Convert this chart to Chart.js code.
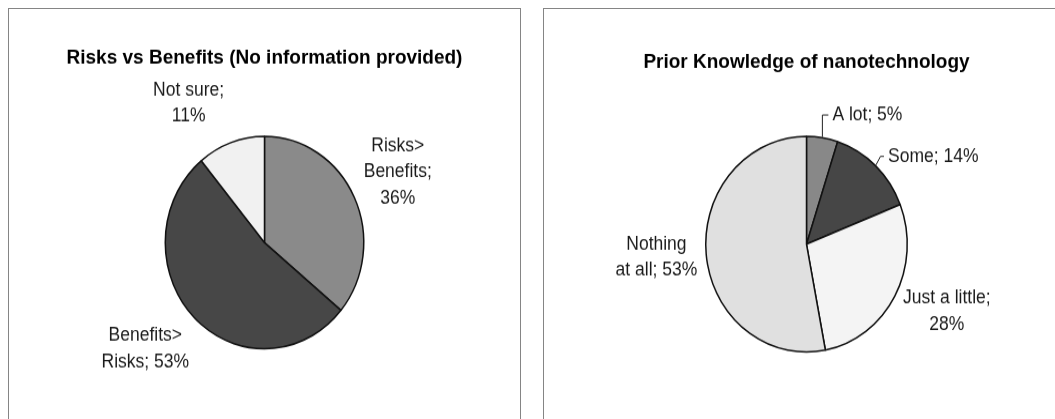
<!DOCTYPE html>
<html>
<head>
<meta charset="utf-8">
<script src="https://cdn.jsdelivr.net/npm/chart.js@4/dist/chart.umd.min.js"></script>
<style>
  html, body { margin:0; padding:0; background:#fff; width:1055px; height:419px; overflow:hidden; }
  .panel { position:absolute; top:8px; height:440px; border:1px solid #858585; box-sizing:border-box; background:#fff; overflow:hidden; }
  #p1 { left:8px; width:513px; }
  #p2 { left:543px; width:530px; }
  /* source picture is slightly taller than wide, stretch the drawing the same way */
  .wrap { position:absolute; left:0; top:0; width:511px; height:392px; transform:scaleY(1.07); transform-origin:0 0; }
</style>
</head>
<body>
<div class="panel" id="p1"><div class="wrap"><canvas id="risk" width="511" height="392"></canvas></div></div>
<div class="panel" id="p2"><div class="wrap"><canvas id="know" width="511" height="392"></canvas></div></div>
<script>
// ======= data =======
const riskCategories = ['Risks>|Benefits', 'Benefits>|Risks', 'Not sure'];
const riskValues = [36, 53, 11];
const riskColors = ['#8a8a8a', '#474747', '#f1f1f1'];
const riskValueOnNewLine = [true, false, true];

const knowCategories = ['A lot', 'Some', 'Just a little', 'Nothing|at all'];
const knowValues = [5, 14, 28, 53];
const knowColors = ['#888888', '#464646', '#f4f4f4', '#e0e0e0'];
const knowValueOnNewLine = [false, false, true, false];

const FONT = '"Liberation Sans", Arial, sans-serif';

// "Risks>|Benefits" + 36 -> ["Risks>", "Benefits;", "36%"]
function labelLines(name, value, newLine){
  const lines = name.split('|');
  const last = lines.length - 1;
  if(newLine){ lines[last] += ';'; lines.push(value + '%'); }
  else lines[last] += '; ' + value + '%';
  return lines;
}

// ======= data labels (Excel style, outside end) =======
const sliceLabels = {
  id: 'sliceLabels',
  afterDatasetsDraw(chart, args, opts){
    const ctx = chart.ctx;
    const meta = chart.getDatasetMeta(0);
    const values = chart.data.datasets[0].data;
    ctx.save();
    ctx.font = opts.size + 'px ' + FONT;
    ctx.fillStyle = '#1a1a1a';
    ctx.strokeStyle = '#222';
    ctx.lineWidth = 1;
    ctx.textBaseline = 'middle';
    meta.data.forEach((arc, i)=>{
      const p = arc.getProps(['x','y','startAngle','endAngle','outerRadius'], true);
      const mid = (p.startAngle + p.endAngle) / 2;
      const lines = labelLines(chart.data.labels[i], values[i], opts.valueOnNewLine[i]);
      const lead = opts.leaders && opts.leaders[i];
      if(lead){
        const ex = p.x + Math.cos(mid) * (p.outerRadius + 0.75);
        const ey = p.y + Math.sin(mid) * (p.outerRadius + 0.75);
        const ly = ey + lead.rise;
        ctx.beginPath();
        ctx.moveTo(ex, ey);
        ctx.lineTo(ex + lead.knee, ly);
        ctx.lineTo(ex + lead.text - 4, ly);
        ctx.stroke();
        ctx.textAlign = 'left';
        ctx.fillText(lines.join(' '), ex + lead.text, ly);
      } else {
        const d = p.outerRadius + opts.gap;
        const n = (opts.nudge && opts.nudge[i]) || [0, 0];
        const cx = p.x + Math.cos(mid) * d + n[0];
        const cy = p.y + Math.sin(mid) * d + n[1];
        ctx.textAlign = 'center';
        lines.forEach((t, k)=> ctx.fillText(t, cx, cy + (k - (lines.length - 1) / 2) * opts.lineHeight));
      }
    });
    ctx.restore();
  }
};

function makePie(id, cats, vals, colors, title, layout, labelOpts){
  return new Chart(document.getElementById(id), {
    type: 'pie',
    data: { labels: cats, datasets: [{ data: vals, backgroundColor: colors, borderColor: '#111', borderWidth: 1.5 }] },
    options: {
      responsive: false,
      animation: false,
      events: [],
      layout: { padding: layout.padding },
      plugins: {
        legend: { display: false },
        tooltip: { enabled: false },
        title: {
          display: true, text: title, color: '#000',
          font: { family: FONT, size: 19, weight: 'bold' },
          padding: layout.title
        },
        sliceLabels: labelOpts
      }
    },
    plugins: [sliceLabels]
  });
}

makePie('risk', riskCategories, riskValues, riskColors,
  'Risks vs Benefits (No information provided)',
  { padding: { left: 0, right: 0, top: 0, bottom: 73.7 }, title: { top: 34.4, bottom: 61.1 } },
  { size: 17.5, lineHeight: 24.5, gap: 51, valueOnNewLine: riskValueOnNewLine,
    nudge: [[-2.7, -2.1], [-13, -7], [-25, 11]] });

makePie('know', knowCategories, knowValues, knowColors,
  'Prior Knowledge of nanotechnology',
  { padding: { left: 14, right: 0, top: 0, bottom: 70.7 }, title: { top: 38.6, bottom: 56.9 } },
  { size: 17.5, lineHeight: 24.5, gap: 51, valueOnNewLine: knowValueOnNewLine,
    nudge: [null, null, [7.4, -10], [1, -2]],
    leaders: [{ rise: -20.5, knee: 0, text: 10 }, { rise: -8.1, knee: 4.5, text: 12 }] });
</script>
</body>
</html>
